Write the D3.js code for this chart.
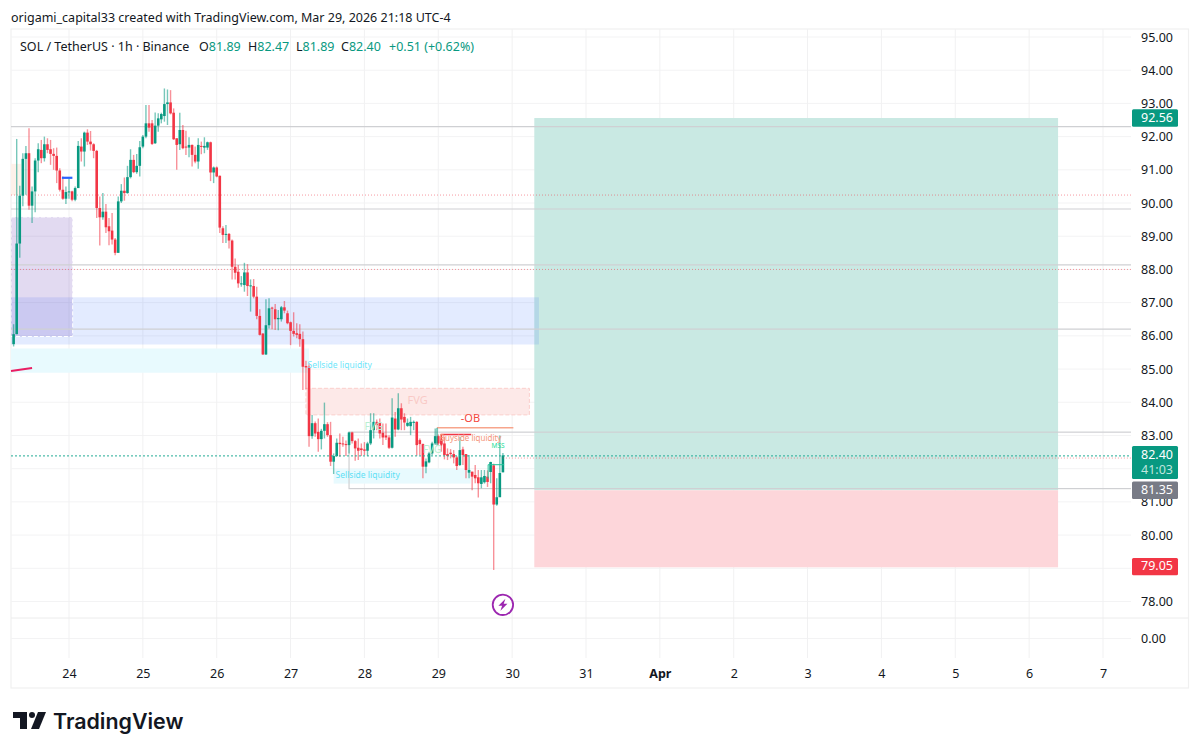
<!DOCTYPE html>
<html>
<head>
<meta charset="utf-8">
<script src="https://cdn.jsdelivr.net/npm/d3@7"></script>
<style>
html,body{margin:0;padding:0;background:#fff;}
svg{display:block;}
text{font-family:"Noto Sans",sans-serif;}
</style>
</head>
<body>
<svg id="chart" width="1200" height="753"></svg>
<script>
// hourly candles, first one is 18 hours before Mar 24 00:00
const firstHour = -18;
const opens = [85.75,86.05,88.78,90.22,91.33,91.5,89.92,90.35,91.28,91.6,
91.35,91.77,91.62,91.48,91.42,90.98,90.4,90.13,90.33,90.35,
90.1,90.45,91.7,91.55,92.12,91.85,91.77,91.57,89.85,89.57,
89.74,89.3,89.17,88.9,88.5,90.05,90.37,90.3,90.78,91.3,
90.93,91.12,91.7,92,92.4,92.4,91.8,92.33,92.52,92.62,
92.98,93.03,92.72,91.95,91.77,92.2,91.7,91.67,91.75,91.45,
91.25,91.72,91.67,91.67,91.83,90.92,91.07,90.82,89.24,89.04,
89.07,88.87,88.08,87.93,87.56,87.53,87.91,87.5,87.5,87.18,
86.6,86.07,85.44,86.32,86.85,86.8,86.5,86.5,86.86,86.68,
86.41,86.15,86.08,86.06,85.9,85.09,85.07,82.98,83.37,83.11,
82.89,83.14,83.34,83.01,82.21,82.38,82.78,82.76,82.74,82.71,
83.09,82.83,82.63,82.61,82.58,82.54,82.76,83.16,83.41,83.38,
83.08,83,82.94,82.63,83.51,83.18,83.82,83.56,83.29,83.28,
83.38,83.41,82.86,82.74,82.06,82.19,82.46,82.76,82.98,82.88,
82.76,82.44,82.48,82.44,82.34,82.11,82.58,82.44,81.88,81.91,
81.81,81.74,81.54,81.59,81.76,81.9,82.1,80.92,81.14,81.89];
const highs = [86.35,91.93,90.52,91.5,91.72,92.25,90.5,91.35,91.8,91.9,
92,91.95,91.9,91.65,91.67,91.05,90.8,90.5,90.75,90.37,
90.5,91.87,91.95,92.15,92.22,92.17,91.8,91.6,90.2,90.3,
89.97,89.55,89.7,88.95,90.2,90.57,90.77,91.12,91.62,91.45,
91.48,91.87,92.05,92.95,92.95,92.5,92.73,92.7,92.72,93.45,
93.42,93.4,92.85,91.95,92.72,92.35,92.18,91.98,91.76,91.7,
91.95,91.85,91.98,91.85,91.85,91.1,91.1,90.83,89.3,89.34,
89.1,88.9,88.33,88.13,87.8,88.2,88.16,87.7,87.71,87.48,
86.8,86.08,87.1,87.13,86.88,86.96,86.78,86.9,87.05,86.76,
86.43,86.71,86.38,86.35,86.13,85.25,85.17,83.62,83.42,83.51,
83.2,83.99,83.4,83.41,82.46,82.91,83.06,82.96,82.85,83.11,
83.11,82.86,82.91,82.76,82.8,82.81,83.67,83.67,83.48,83.51,
83.36,83.36,83.01,84.12,83.71,84.27,83.97,83.67,83.51,83.56,
83.45,83.43,82.91,82.76,82.31,82.51,82.81,83.21,83.03,82.96,
82.96,82.61,82.59,82.56,82.38,82.96,82.66,82.44,82.41,81.91,
82.11,81.96,81.96,81.96,81.95,82.21,82.15,81.71,83,82.47];
const lows = [85.68,86.05,88.35,89.9,90.25,89.8,89.4,89.72,90.93,91.2,
91.25,91.5,91.15,91,90.6,90.35,90.1,89.97,90.13,90.05,
90.05,90.45,91.25,91.1,91.75,91.58,91.35,89.55,88.72,89.5,
89.1,88.73,88.75,88.43,88.5,90,90.07,90.28,90.74,90.9,
90.88,90.8,91.65,91.95,92.15,91.75,91.78,92.15,92.4,92.45,
92.35,92.67,91.9,91,91.6,91.62,91.45,91.38,91.1,91.2,
91.03,91.47,91.5,91.6,90.66,90.6,90.78,89.1,88.8,88.8,
88.63,87.7,87.7,87.45,87.48,87.33,87.2,86.73,87.13,86.5,
86.01,85.42,85.42,86.22,86.2,86.18,86.17,86.43,86.68,86.35,
85.72,85.98,85.93,85.67,84.37,84.39,82.66,82.9,82.96,82.51,
82.58,82.91,82.96,82.08,81.84,82.36,82.36,82.66,82.38,82.46,
82.76,82.24,82.26,82.38,82.41,82.38,82.71,82.91,83.16,82.91,
82.71,82.86,82.59,82.61,82.96,83.16,83.16,83.16,83.26,83.01,
83.16,82.39,82.41,81.71,81.86,82.16,82.41,82.71,82.71,82.51,
82.28,82.26,82.31,82.16,81.96,82.08,82.11,81.71,81.71,81.35,
81.56,81.13,81.41,81.55,81.45,81.56,78.95,80.88,81.15,81.89];
const closes = [86.05,88.78,90.22,91.33,91.5,89.92,90.35,91.28,91.62,91.35,
91.77,91.6,91.48,91.42,90.98,90.4,90.13,90.33,90.35,90.1,
90.45,91.72,91.55,92.12,91.85,91.77,91.57,89.85,89.57,89.74,
89.27,89.15,88.9,88.5,90.05,90.37,90.3,90.78,91.3,90.93,
91.12,91.68,92,92.4,92.27,91.78,92.33,92.55,92.68,92.98,
93.03,92.7,91.92,91.75,92.2,91.65,91.67,91.75,91.45,91.25,
91.75,91.69,91.72,91.83,90.92,91.07,90.8,89.26,89.04,89.07,
88.87,88.08,87.9,87.58,87.58,87.91,87.5,87.52,87.18,86.6,
86.03,85.44,86.32,86.83,86.82,86.5,86.54,86.86,86.76,86.38,
86.15,86.06,86.03,85.9,85.07,85.05,82.98,83.37,83.06,82.89,
83.14,83.34,83.01,82.21,82.38,82.78,82.74,82.73,82.71,83.09,
82.83,82.61,82.54,82.56,82.54,82.76,83.16,83.41,83.31,83.06,
82.94,82.94,82.63,83.54,83.18,83.82,83.48,83.39,83.38,83.41,
83.41,82.71,82.74,82.06,82.22,82.46,82.76,82.98,82.76,82.73,
82.41,82.38,82.44,82.34,82.08,82.56,82.41,81.96,81.96,81.76,
81.71,81.56,81.74,81.78,81.6,82.2,80.92,81.14,81.87,82.4];

const priceTicks = [95,94,93,92,91,90,89,88,87,86,85,84,83,82,81,80,79,78];
// these two sit behind the price tags in the picture, so they get no label
const hiddenTickLabels = [82,79];
const dayLabels = ["24","25","26","27","28","29","30","31","Apr","2","3","4","5","6","7"];
const axisTags = [
  {label:"92.56", price:92.56, color:"#089981"},
  {label:"81.35", price:81.35, color:"#787b86"},
  {label:"79.05", price:79.05, color:"#f23645"}
];
// horizontal levels drawn all the way to the axis
const grayLevels = [92.3,89.82,88.14,86.2];
const redDotLevels = [90.24,88.0];
const headerText = "origami_capital33 created with TradingView.com, Mar 29, 2026 21:18 UTC-4";
const ohlc = [["O","81.89"],["H","82.47"],["L","81.89"],["C","82.40"]];

const plotLeft = 11, plotRight = 1131, outerRight = 1188.5, plotTop = 29, outerBottom = 688, paneLine = 618, gridBottom = 658;
const green = "#089981", red = "#f23645";

const svg = d3.select("#chart");
const x = d3.scaleLinear().domain([0,336]).range([69,1103]);
const y = d3.scaleLinear().domain([78,95]).range([601.5,37]);
const y0 = d3.scaleLinear().domain([0,1]).range([638.5,620]);
const rightHour = x.invert(plotRight), leftHour = x.invert(plotLeft);

svg.append("defs").append("clipPath").attr("id","plot")
  .append("rect").attr("x",plotLeft).attr("y",plotTop).attr("width",plotRight-plotLeft).attr("height",paneLine-plotTop);

// frame
svg.append("rect").attr("x",plotLeft).attr("y",plotTop).attr("width",outerRight-plotLeft).attr("height",outerBottom-plotTop)
  .attr("fill","none").attr("stroke","#f0f0f0").attr("stroke-width",1.2);

// grid
const grid = svg.append("g");
grid.selectAll(".gy").data(priceTicks).join("line")
  .attr("x1",plotLeft).attr("x2",plotRight).attr("y1",d=>y(d)).attr("y2",d=>y(d))
  .attr("stroke","#f3f3f4");
grid.append("line").attr("x1",plotLeft).attr("x2",plotRight).attr("y1",y0(0)).attr("y2",y0(0)).attr("stroke","#f3f3f4");
grid.selectAll(".gx").data(d3.range(0,15)).join("line")
  .attr("x1",d=>x(d*24)).attr("x2",d=>x(d*24)).attr("y1",plotTop).attr("y2",gridBottom)
  .attr("stroke","#f1f1f2");
grid.append("line").attr("x1",plotLeft).attr("x2",outerRight).attr("y1",paneLine).attr("y2",paneLine).attr("stroke","#ececec");

const ov = svg.append("g").attr("clip-path","url(#plot)");
function box(h1,h2,p1,p2,fill,stroke){
  const r = ov.append("rect").attr("x",x(h1)).attr("y",y(p1)).attr("width",x(h2)-x(h1)).attr("height",y(p2)-y(p1)).attr("fill",fill);
  if(stroke) r.attr("stroke",stroke).attr("stroke-dasharray","4 2").attr("stroke-width",1);
  return r;
}

// zones
box(leftHour,-15.5,91.18,90.24,"#fdf1ea");
box(leftHour,78,85.62,84.89,"#e8fafe");
box(leftHour,153.7,87.16,85.74,"rgba(41,98,255,0.13)");
box(leftHour,1.2,89.58,85.98,"rgba(103,58,183,0.19)","#ffffff");
box(77,149.6,84.42,83.62,"#fde9e8","#fbcfcc");
box(86,130.5,82.0,81.55,"#e8fafe");
box(151.2,321.4,92.56,81.35,"#c9e9e3");
box(151.2,321.4,81.35,79.03,"#fdd6da");
// blue box edge over the teal
box(151.2,152.7,87.16,85.74,"rgba(41,98,255,0.13)");

// level lines
ov.selectAll(".lv").data(grayLevels).join("line")
  .attr("x1",plotLeft).attr("x2",plotRight).attr("y1",d=>y(d)).attr("y2",d=>y(d))
  .attr("stroke","#cfd0d3").attr("stroke-width",1.2);
ov.selectAll(".ld").data(redDotLevels).join("line")
  .attr("x1",plotLeft).attr("x2",plotRight).attr("y1",d=>y(d)).attr("y2",d=>y(d))
  .attr("stroke","rgba(242,54,69,0.5)").attr("stroke-dasharray","1 2");
// gray box around the lower range
ov.append("rect").attr("x",x(91)).attr("y",y(83.1)).attr("width",plotRight-x(91)+5).attr("height",y(81.4)-y(83.1))
  .attr("fill","none").attr("stroke","#cfd0d3").attr("stroke-width",1.2);

// candles
const candles = opens.map((o,i)=>({h:firstHour+i,o:o,hi:highs[i],lo:lows[i],c:closes[i]}));
const cg = svg.append("g").attr("clip-path","url(#plot)");
cg.selectAll(".wick").data(candles).join("line")
  .attr("x1",d=>x(d.h)).attr("x2",d=>x(d.h)).attr("y1",d=>y(d.hi)).attr("y2",d=>y(d.lo))
  .attr("stroke",d=>d.c>=d.o?green:red).attr("stroke-width",1.4).attr("stroke-opacity",0.55);
cg.selectAll(".body").data(candles).join("rect")
  .attr("x",d=>x(d.h)-1.3).attr("width",2.6)
  .attr("y",d=>y(Math.max(d.o,d.c)))
  .attr("height",d=>Math.max(1,Math.abs(y(d.o)-y(d.c))))
  .attr("fill",d=>d.c>=d.o?green:red);

// drawn lines on top
const lineGen = d3.line().x(d=>x(d[0])).y(d=>y(d[1]));
function path(points,color,width,dash){
  const p = svg.append("path").attr("d",lineGen(points)).attr("fill","none").attr("stroke",color).attr("stroke-width",width);
  if(dash) p.attr("stroke-dasharray",dash);
  return p;
}
path([[-2.3,90.76],[1.1,90.76]],"#2962ff",2.2);
path([[leftHour,84.94],[-12,85.03]],"#e91e63",2);
path([[119.6,83.23],[144.4,83.23]],"#f7a58c",1.5);
path([[119.6,82.7],[119.6,83.23]],green,1);
path([[121,82.7],[121,83.03],[130.7,83.03]],red,1.6);
path([[136.2,81.7],[136.2,82.12],[141.4,82.12]],"#22c39a",1);
path([[141,82.32],[rightHour,82.32]],"rgba(242,54,69,0.5)",1,"1 2");
path([[leftHour,82.385],[rightHour,82.385]],"#22ab94",1,"2 2");

// annotations
function note(txt,h,p,color,size,opa){
  svg.append("text").attr("x",x(h)).attr("y",y(p)).attr("fill",color).attr("font-size",size)
    .attr("dominant-baseline","middle").attr("fill-opacity",opa||1).text(txt);
}
note("Sellside liquidity",77.5,85.09,"#6fe6fa",8.5);
note("Sellside liquidity",86.6,81.8,"#5fe0f5",8.5);
note("FVG",110,84.03,"#f9c9c6",11);
note("-OB",127.3,83.49,"#f4473d",11);
note("Buyside liquidity",120.5,82.9,"#f5957a",8);
note("FVG",96,83.25,"#b8efd2",10);
note("FVG",115,82.55,"#b8efd2",10);
note("MSS",137.3,82.66,"#22dd99",6.5);

// lightning marker under the low wick
const mark = svg.append("g").attr("transform",`translate(${x(141)},${y(77.9)})`);
mark.append("circle").attr("r",10.2).attr("fill","#fff").attr("stroke","#9c27b0").attr("stroke-width",1.8);
mark.append("path").attr("d","M2.5,-6 L-4.5,1 L-0.8,1 L-2.5,6 L4.5,-1 L0.8,-1 Z").attr("fill","#9c27b0");

// price axis
const yAxis = d3.axisRight(y).tickValues(priceTicks.filter(d=>!hiddenTickLabels.includes(d))).tickFormat(d3.format(".2f")).tickSize(0).tickPadding(10);
const ya = svg.append("g").attr("transform",`translate(${plotRight},0)`).call(yAxis);
ya.select(".domain").remove();
ya.selectAll("text").attr("font-size",12.5).attr("fill","#131722").style("font-family",'"Noto Sans",sans-serif');
const y0Axis = d3.axisRight(y0).tickValues([0]).tickFormat(d3.format(".2f")).tickSize(0).tickPadding(10);
const ya0 = svg.append("g").attr("transform",`translate(${plotRight},0)`).call(y0Axis);
ya0.select(".domain").remove();
ya0.selectAll("text").attr("font-size",12.5).attr("fill","#131722").style("font-family",'"Noto Sans",sans-serif');

// price tags
const tags = svg.append("g").selectAll("g").data(axisTags).join("g").attr("transform",d=>`translate(1132,${y(d.price)})`);
tags.append("rect").attr("y",-8.7).attr("width",46).attr("height",17.4).attr("rx",1.5).attr("fill",d=>d.color);
tags.append("text").attr("x",9).attr("y",0.5).attr("dominant-baseline","middle").attr("font-size",12.5).attr("fill","#fff").text(d=>d.label);
const last = svg.append("g").attr("transform",`translate(1132,${y(82.4)})`);
last.append("rect").attr("y",-9.5).attr("width",46).attr("height",33).attr("rx",1.5).attr("fill",green);
last.append("text").attr("x",9).attr("y",0).attr("dominant-baseline","middle").attr("font-size",12.5).attr("fill","#fff").text("82.40");
last.append("text").attr("x",9).attr("y",15).attr("dominant-baseline","middle").attr("font-size",12.5).attr("fill","#bfe6df").text("41:03");

// time axis
const xAxis = d3.axisBottom(x).tickValues(d3.range(0,15).map(d=>d*24)).tickFormat((d,i)=>dayLabels[i]).tickSize(0).tickPadding(11);
const xa = svg.append("g").attr("transform",`translate(0,${gridBottom})`).call(xAxis);
xa.select(".domain").remove();
xa.selectAll("text").attr("font-size",12.5).attr("fill","#131722")
  .style("font-family",'"Noto Sans",sans-serif')
  .attr("font-weight",(d,i)=>dayLabels[i]=="Apr"?700:400);

// header
svg.append("text").attr("x",11).attr("y",22).attr("font-size",12.5).attr("fill","#131722").text(headerText);
const leg = svg.append("g").attr("font-size",12.5);
leg.append("text").attr("x",20).attr("y",51).attr("fill","#131722").text("SOL / TetherUS · 1h · Binance");
const ohlcX = [199,248,296,341];
ohlc.forEach((d,i)=>{
  const t = leg.append("text").attr("x",ohlcX[i]).attr("y",51).attr("fill","#131722");
  t.append("tspan").text(d[0]);
  t.append("tspan").attr("fill",green).text(d[1]);
});
leg.append("text").attr("x",389).attr("y",51).attr("fill",green).text("+0.51 (+0.62%)");

// logo
const logo = svg.append("g").attr("transform","translate(13,712)").attr("fill","#131722");
logo.append("path").attr("d","M0,0 H14 V17 H7 V6 H0 Z");
logo.append("circle").attr("cx",19).attr("cy",3).attr("r",3);
logo.append("path").attr("d","M25,0 H33 L26,17 H18 Z");
svg.append("text").attr("x",53).attr("y",729).attr("font-size",21.4).attr("font-weight",600).attr("fill","#131722").style("font-family","Inter,sans-serif").text("TradingView");
</script>
</body>
</html>
